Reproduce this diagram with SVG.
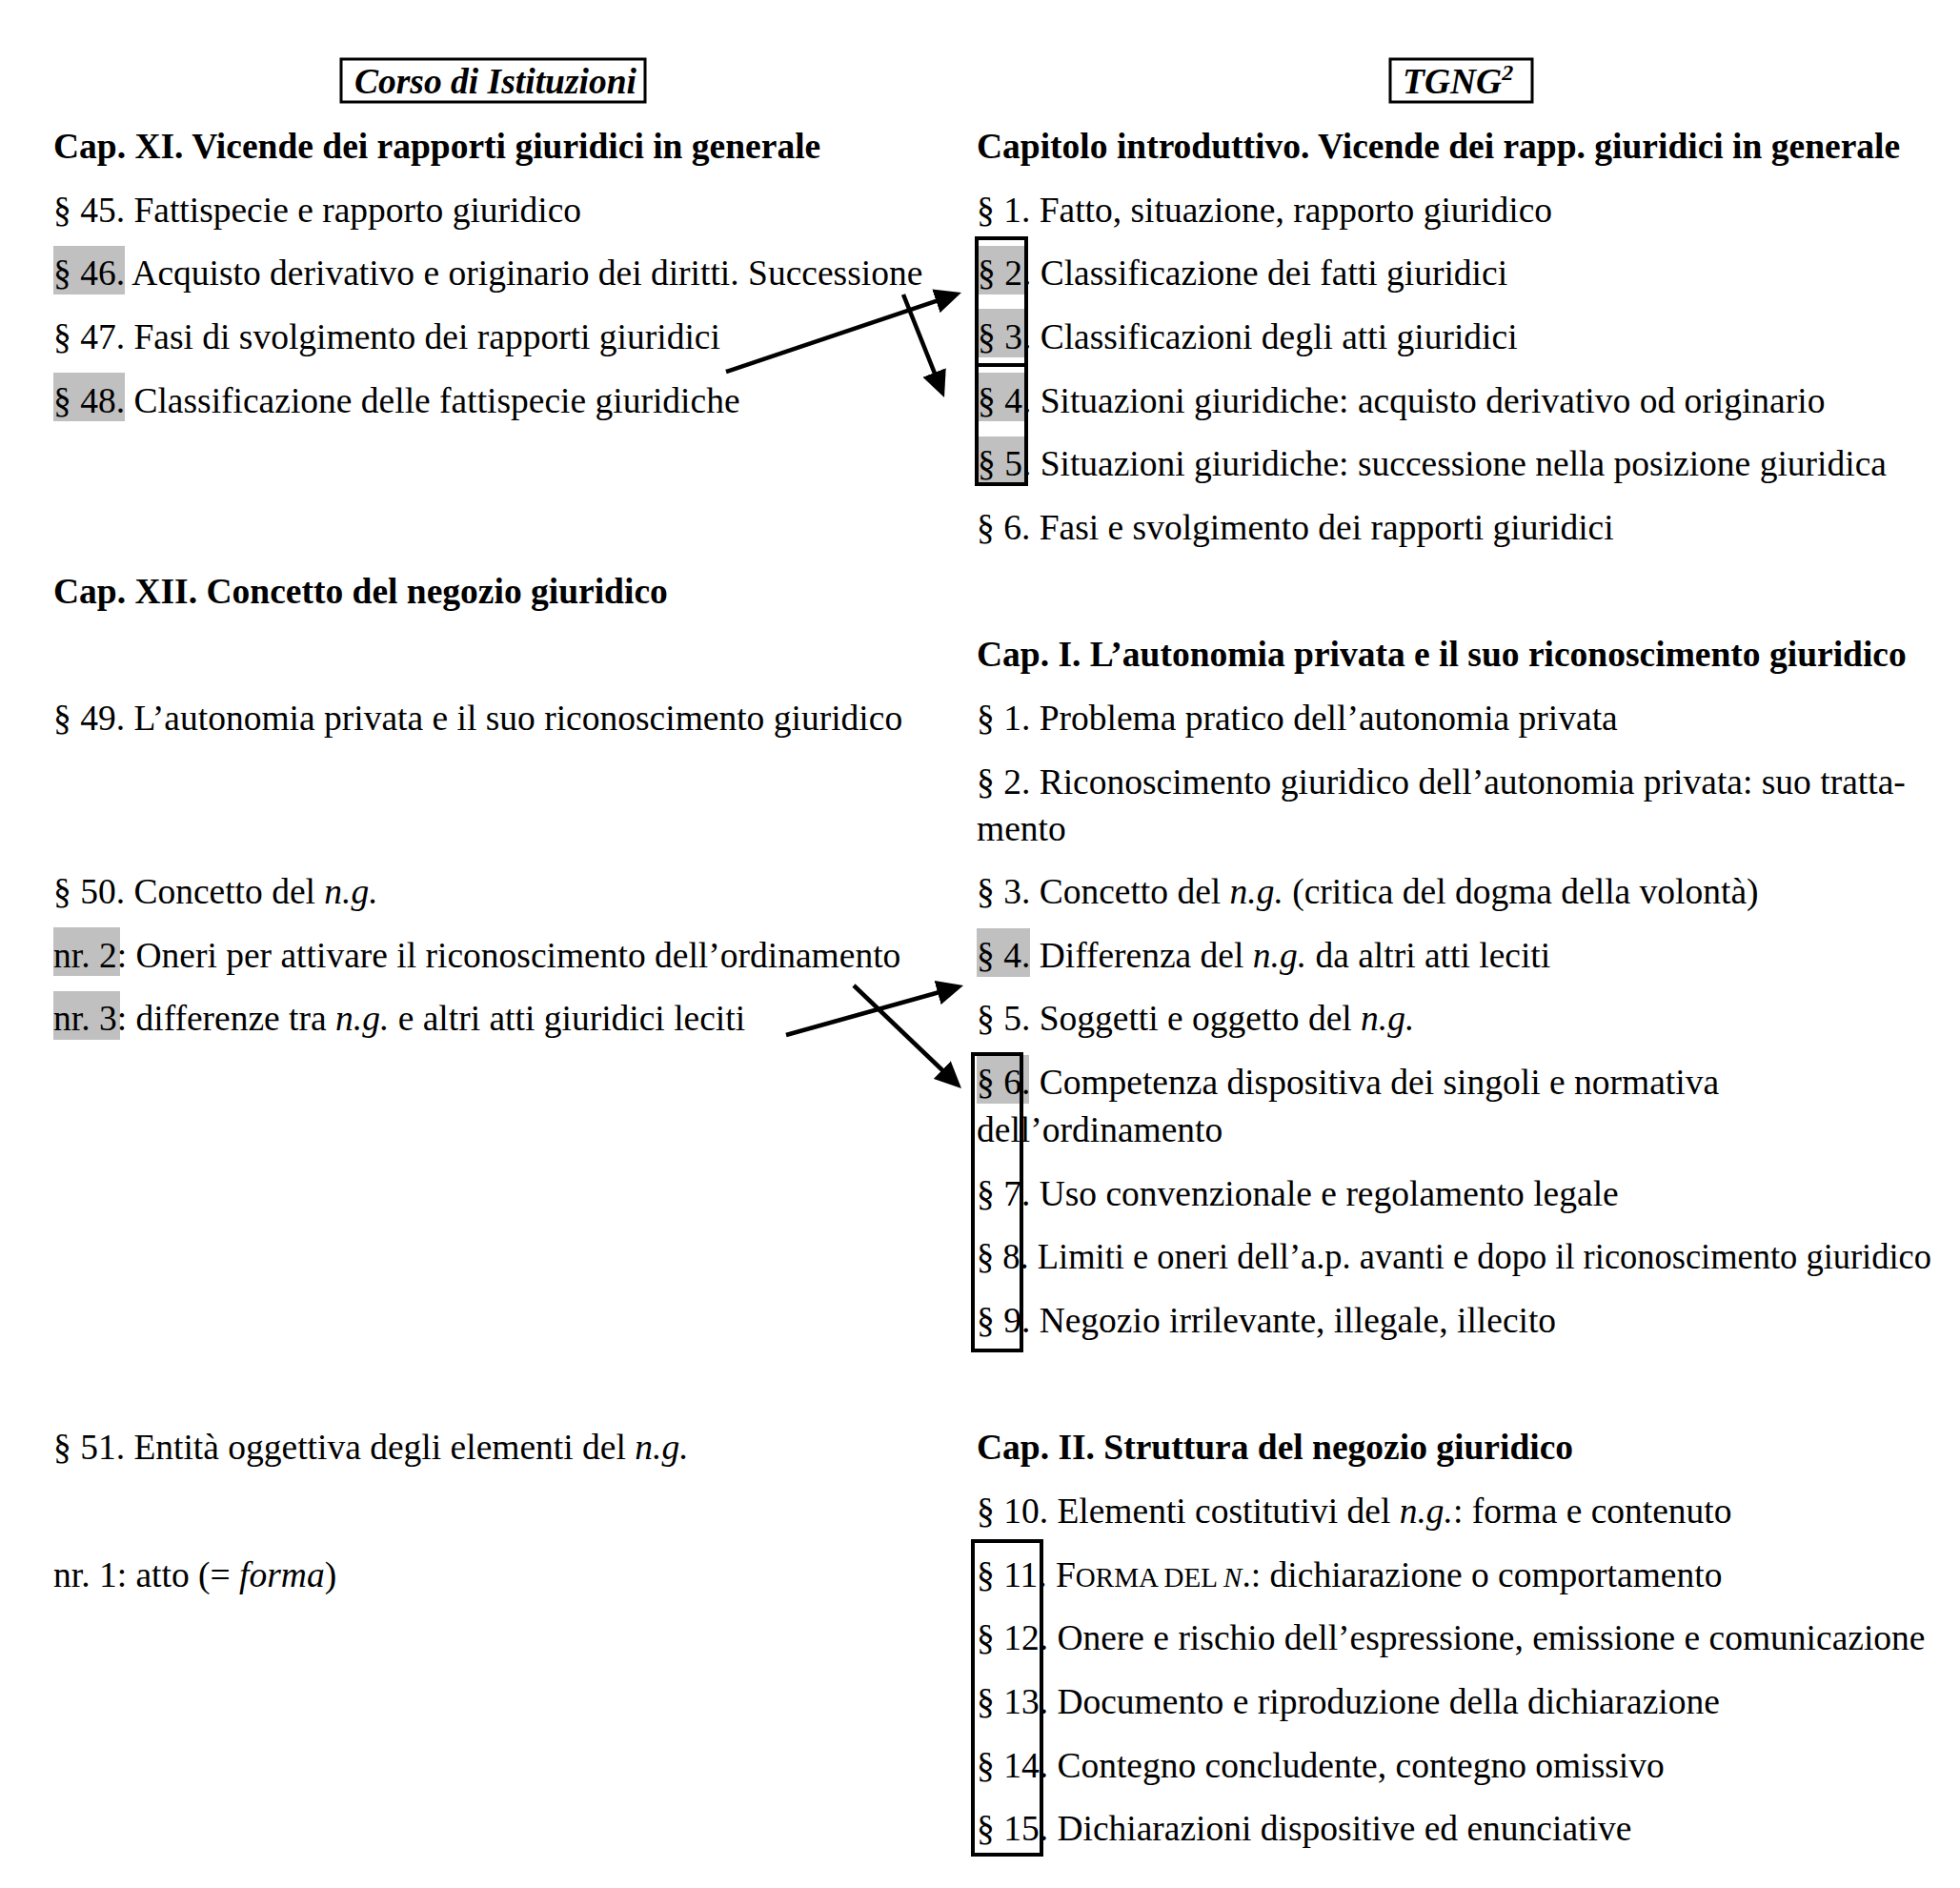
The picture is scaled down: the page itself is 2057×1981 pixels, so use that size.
<svg xmlns="http://www.w3.org/2000/svg" width="2057" height="1981" viewBox="0 0 2057 1981">
<style>
.t{font-family:"Liberation Serif","Times New Roman",serif;font-size:37.5px;fill:#000}
.b{font-weight:bold}
.i{font-style:italic}
.sc{font-size:29px}
.hl{fill:#c0c0c0}
.box{fill:none;stroke:#000;stroke-width:4}
.tbox{fill:none;stroke:#000;stroke-width:3}
.arrow{fill:none;stroke:#000;stroke-width:4.5;marker-end:url(#ah)}
</style>
<defs>
<marker id="ah" markerUnits="userSpaceOnUse" markerWidth="28" markerHeight="26" refX="15" refY="13" orient="auto" viewBox="0 0 28 26">
<path d="M0,0 L28,13 L0,26 z" fill="#000"/>
</marker>
</defs>
<rect width="2057" height="1981" fill="#fff"/>

<!-- highlights -->
<g id="highlights">
<rect class="hl" x="56" y="258" width="75" height="51"/>
<rect class="hl" x="56" y="391" width="75" height="51"/>
<rect class="hl" x="56" y="973" width="70" height="51"/>
<rect class="hl" x="56" y="1040" width="70" height="51"/>
<rect class="hl" x="1025" y="258" width="53" height="51"/>
<rect class="hl" x="1025" y="324" width="53" height="51"/>
<rect class="hl" x="1025" y="391" width="53" height="51"/>
<rect class="hl" x="1025" y="458" width="53" height="51"/>
<rect class="hl" x="1025" y="974" width="56" height="51"/>
<rect class="hl" x="1025" y="1107" width="55" height="51"/>
</g>

<!-- titles -->
<g id="title-left">
<rect class="tbox" x="358" y="62" width="319" height="45"/>
<text class="t b i" x="372" y="98">Corso di Istituzioni</text>
</g>
<g id="title-right">
<rect class="tbox" x="1459" y="62" width="149" height="45"/>
<text class="t b i" x="1472" y="98">TGNG<tspan font-size="24" dy="-14">2</tspan></text>
</g>

<!-- left column -->
<g id="left-cap11"><text class="t b" x="56" y="166">Cap. XI. Vicende dei rapporti giuridici in generale</text></g>
<g id="left-45"><text class="t" x="56" y="232.7">§ 45. Fattispecie e rapporto giuridico</text></g>
<g id="left-46"><text class="t" x="56" y="299.3">§ 46. Acquisto derivativo e originario dei diritti. Successione</text></g>
<g id="left-47"><text class="t" x="56" y="366">§ 47. Fasi di svolgimento dei rapporti giuridici</text></g>
<g id="left-48"><text class="t" x="56" y="432.6">§ 48. Classificazione delle fattispecie giuridiche</text></g>
<g id="left-cap12"><text class="t b" x="56" y="632.6">Cap. XII. Concetto del negozio giuridico</text></g>
<g id="left-49"><text class="t" x="56" y="765.9">§ 49. L’autonomia privata e il suo riconoscimento giuridico</text></g>
<g id="left-50"><text class="t" x="56" y="948">§ 50. Concetto del <tspan class="i">n.g.</tspan></text></g>
<g id="left-50-2"><text class="t" x="56" y="1014.7">nr. 2: Oneri per attivare il riconoscimento dell’ordinamento</text></g>
<g id="left-50-3"><text class="t" x="56" y="1081.3">nr. 3: differenze tra <tspan class="i">n.g.</tspan> e altri atti giuridici leciti</text></g>
<g id="left-51"><text class="t" x="56" y="1531.2">§ 51. Entità oggettiva degli elementi del <tspan class="i">n.g.</tspan></text></g>
<g id="left-51-1"><text class="t" x="56" y="1664.5">nr. 1: atto (= <tspan class="i">forma</tspan>)</text></g>

<!-- right column -->
<g id="right-intro"><text class="t b" x="1025" y="166">Capitolo introduttivo. Vicende dei rapp. giuridici in generale</text></g>
<g id="right-i1"><text class="t" x="1025" y="232.7">§ 1. Fatto, situazione, rapporto giuridico</text></g>
<g id="right-i2"><text class="t" x="1026" y="299.3">§ 2. Classificazione dei fatti giuridici</text></g>
<g id="right-i3"><text class="t" x="1026" y="366">§ 3. Classificazioni degli atti giuridici</text></g>
<g id="right-i4"><text class="t" x="1026" y="432.6">§ 4. Situazioni giuridiche: acquisto derivativo od originario</text></g>
<g id="right-i5"><text class="t" x="1026" y="499.3">§ 5. Situazioni giuridiche: successione nella posizione giuridica</text></g>
<g id="right-i6"><text class="t" x="1025" y="565.9">§ 6. Fasi e svolgimento dei rapporti giuridici</text></g>
<g id="right-cap1"><text class="t b" x="1025" y="699.2">Cap. I. L’autonomia privata e il suo riconoscimento giuridico</text></g>
<g id="right-1"><text class="t" x="1025" y="765.9">§ 1. Problema pratico dell’autonomia privata</text></g>
<g id="right-2"><text class="t" x="1025" y="832.5">§ 2. Riconoscimento giuridico dell’autonomia privata: suo tratta-</text><text class="t" x="1025" y="881.5">mento</text></g>
<g id="right-3"><text class="t" x="1025" y="948">§ 3. Concetto del <tspan class="i">n.g.</tspan> (critica del dogma della volontà)</text></g>
<g id="right-4"><text class="t" x="1025" y="1014.7">§ 4. Differenza del <tspan class="i">n.g.</tspan> da altri atti leciti</text></g>
<g id="right-5"><text class="t" x="1025" y="1081.3">§ 5. Soggetti e oggetto del <tspan class="i">n.g.</tspan></text></g>
<g id="right-6"><text class="t" x="1025" y="1148">§ 6. Competenza dispositiva dei singoli e normativa</text><text class="t" x="1025" y="1197.5">dell’ordinamento</text></g>
<g id="right-7"><text class="t" x="1025" y="1264.5">§ 7. Uso convenzionale e regolamento legale</text></g>
<g id="right-8"><text class="t" x="1025" y="1331.2" textLength="1002" lengthAdjust="spacingAndGlyphs">§ 8. Limiti e oneri dell’a.p. avanti e dopo il riconoscimento giuridico</text></g>
<g id="right-9"><text class="t" x="1025" y="1397.9">§ 9. Negozio irrilevante, illegale, illecito</text></g>
<g id="right-cap2"><text class="t b" x="1025" y="1531.2">Cap. II. Struttura del negozio giuridico</text></g>
<g id="right-10"><text class="t" x="1025" y="1597.9">§ 10. Elementi costitutivi del <tspan class="i">n.g.</tspan>: forma e contenuto</text></g>
<g id="right-11"><text class="t" x="1025" y="1664.5">§ 11. F<tspan class="sc">ORMA DEL </tspan><tspan class="sc i">N</tspan>.: dichiarazione o comportamento</text></g>
<g id="right-12"><text class="t" x="1025" y="1731.2">§ 12. Onere e rischio dell’espressione, emissione e comunicazione</text></g>
<g id="right-13"><text class="t" x="1025" y="1797.9">§ 13. Documento e riproduzione della dichiarazione</text></g>
<g id="right-14"><text class="t" x="1025" y="1864.5">§ 14. Contegno concludente, contegno omissivo</text></g>
<g id="right-15"><text class="t" x="1025" y="1931.2">§ 15. Dichiarazioni dispositive ed enunciative</text></g>

<!-- bracket boxes -->
<g id="boxes">
<rect class="box" x="1025" y="250" width="52" height="133"/>
<rect class="box" x="1025" y="383" width="52" height="125"/>
<rect class="box" x="1021" y="1106" width="51" height="311"/>
<rect class="box" x="1021" y="1617" width="72" height="329"/>
</g>

<!-- connectors -->
<g id="connectors">
<line class="arrow" x1="762" y1="390" x2="996.6" y2="311.1"/>
<line class="arrow" x1="948" y1="309" x2="986.2" y2="404.9"/>
<line class="arrow" x1="825" y1="1086" x2="998.5" y2="1037.5"/>
<line class="arrow" x1="896" y1="1034" x2="999.6" y2="1133"/>
</g>
</svg>
